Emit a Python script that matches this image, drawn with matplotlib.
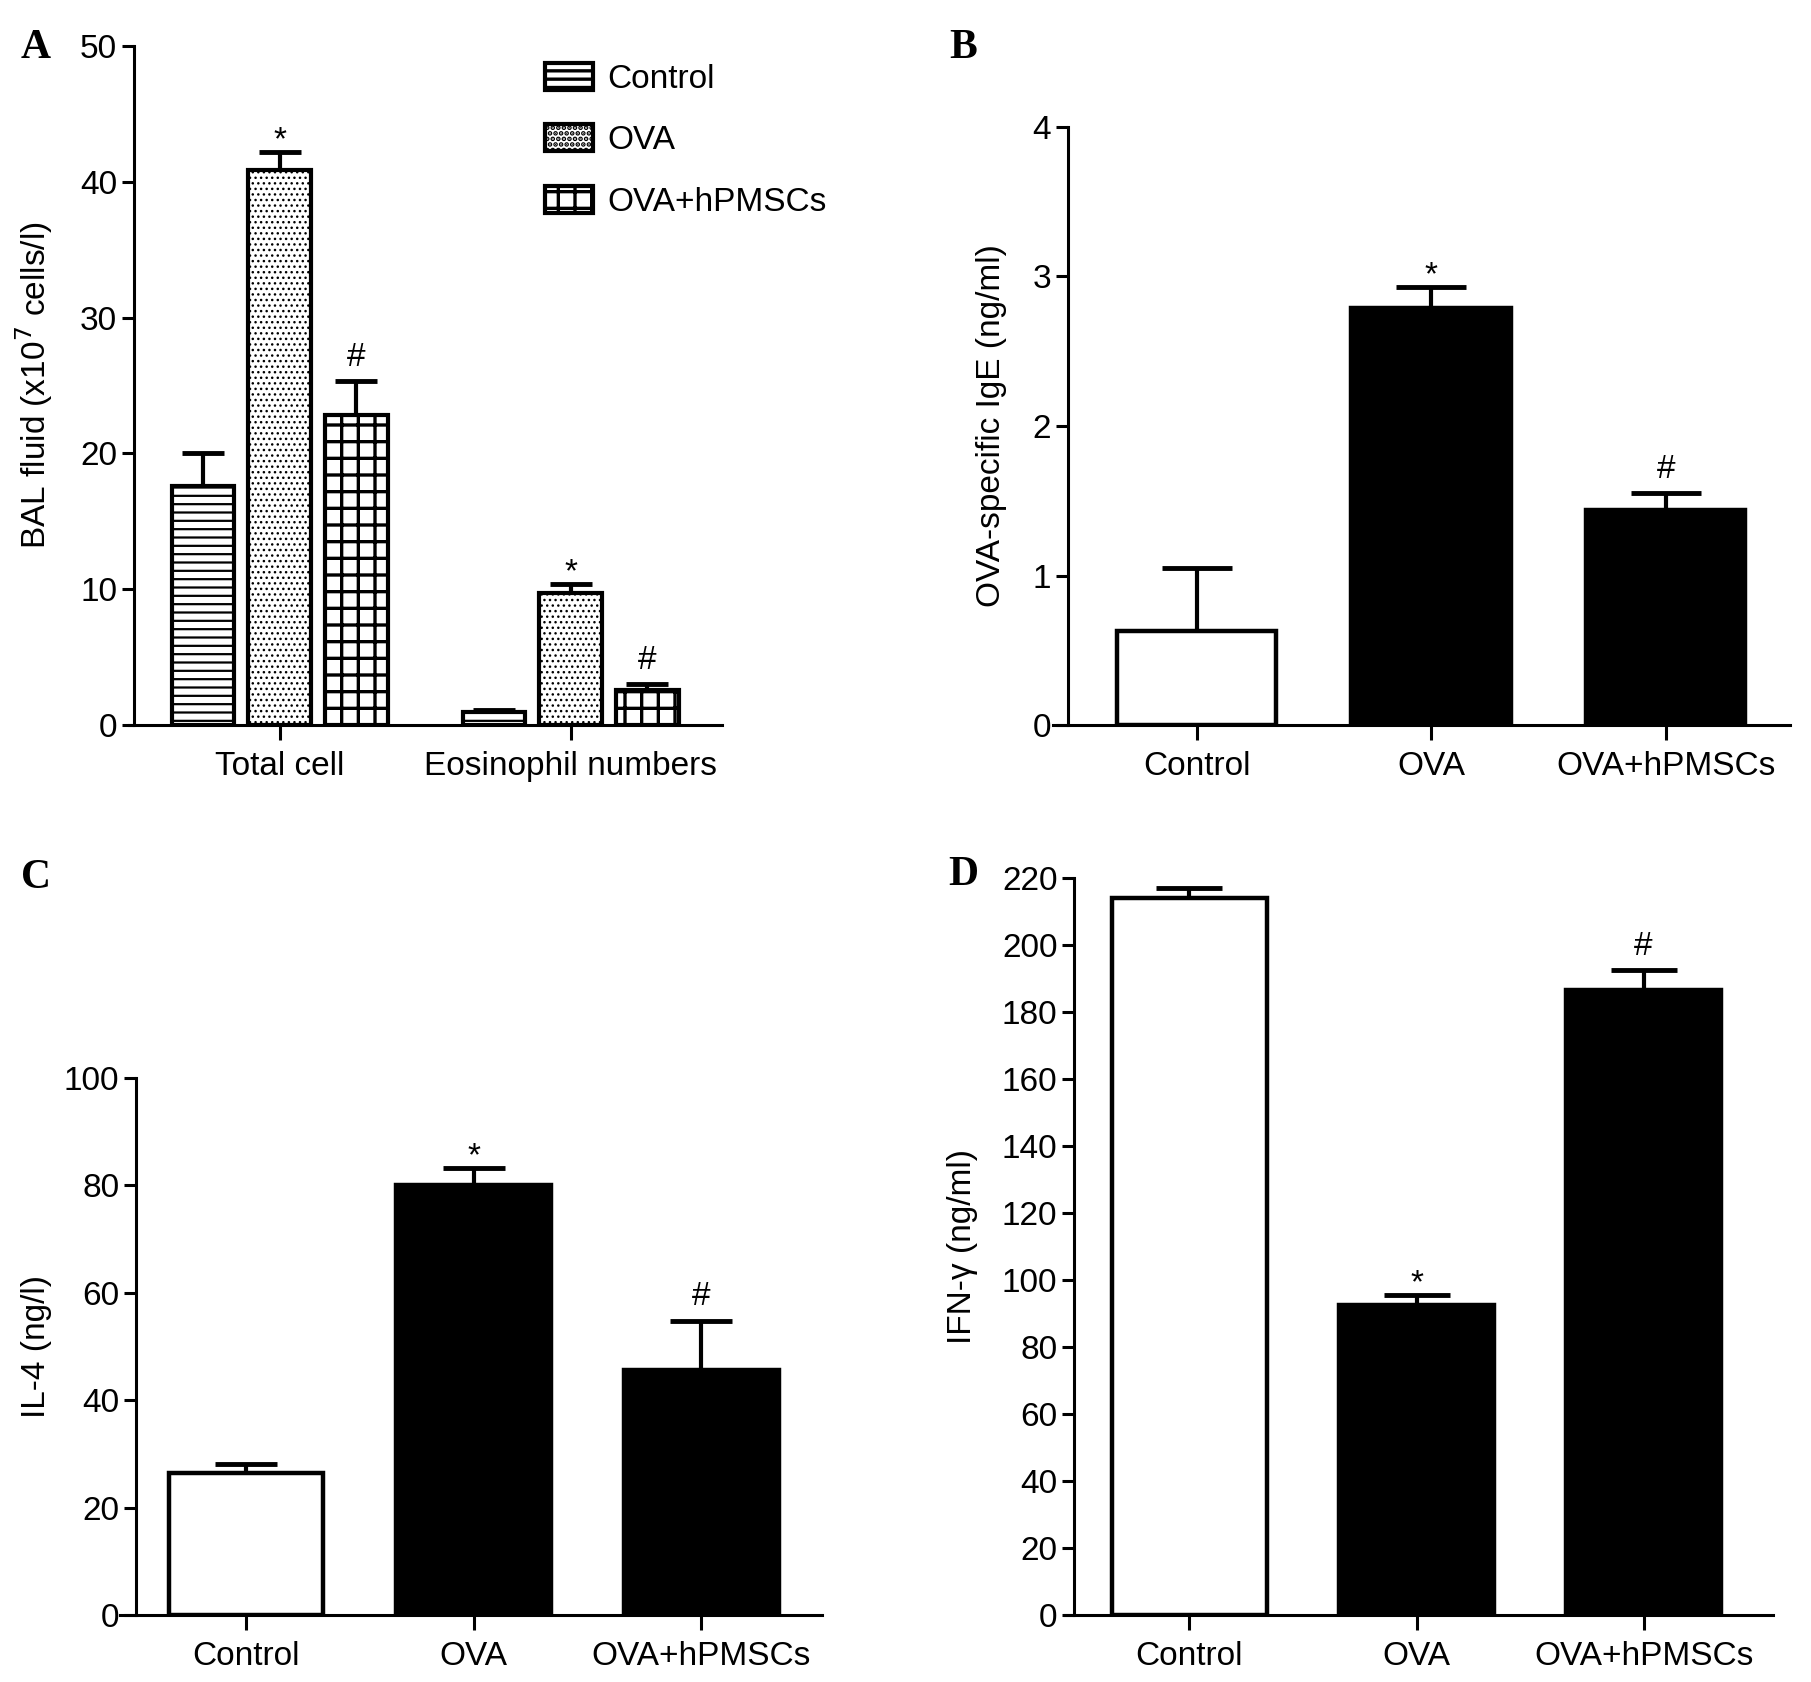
import numpy as np
import matplotlib
matplotlib.use("Agg")
import matplotlib.pyplot as plt
from matplotlib.patches import Patch

plt.rcParams['font.family'] = ['Liberation Sans', 'DejaVu Sans']

# data
groups = ['Control', 'OVA', 'OVA+hPMSCs']
a_cats = ['Total cell', 'Eosinophil numbers']
a_vals = {'Control': [17.6, 0.95], 'OVA': [40.9, 9.7], 'OVA+hPMSCs': [22.8, 2.55]}
a_err = {'Control': [2.4, 0.15], 'OVA': [1.3, 0.7], 'OVA+hPMSCs': [2.5, 0.45]}
a_marks = {'Control': ['', ''], 'OVA': ['*', '*'], 'OVA+hPMSCs': ['#', '#']}

ige_vals = [0.63, 2.79, 1.44]
ige_err = [0.42, 0.14, 0.11]
il4_vals = [26.5, 80.0, 45.6]
il4_err = [1.7, 3.2, 9.2]
ifn_vals = [214.0, 92.4, 186.6]
ifn_err = [2.9, 3.1, 5.8]
marks = ['', '*', '#']

FS = 24
W, H = 1811, 1682
fig = plt.figure(figsize=(W / 100, H / 100), dpi=100)

# hatch look for panel A: pattern, hatch line width, hatch colour
hatch_style = {'Control': ('--', 1.6, 'black'),
               'OVA': ('...', 1.0, '#707070'),
               'OVA+hPMSCs': ('+', 2.4, 'black')}


def hatched(patch, g):
    h, lw, hc = hatch_style[g]
    patch.set_hatch(h)
    if hasattr(patch, 'set_hatch_linewidth'):
        patch.set_hatch_linewidth(lw)
    if hasattr(patch, 'set_hatchcolor'):
        patch.set_hatchcolor(hc)


def px_axes(left, right, top, bottom):
    return fig.add_axes([left / W, 1 - bottom / H, (right - left) / W, (bottom - top) / H])


def style(ax, spine_x, ylim, yticks, ylabel, lab_x):
    ax.set_ylim(*ylim)
    ax.set_yticks(yticks)
    for s in ['top', 'right']:
        ax.spines[s].set_visible(False)
    ax.spines['left'].set_position(('data', spine_x))
    for s in ['left', 'bottom']:
        ax.spines[s].set_linewidth(2.2)
    ax.tick_params(axis='x', length=11, width=2.2, pad=8, labelsize=FS)
    ax.tick_params(axis='y', length=9, width=2.2, pad=3, labelsize=FS)
    ax.set_ylabel(ylabel, fontsize=FS)
    ax.yaxis.set_label_coords(lab_x, 0.5)


def mark(ax, x, top, m):
    if m == '#':
        ax.annotate(m, (x, top), xytext=(0, 11), textcoords='offset points',
                    ha='center', va='baseline', fontsize=FS)
    elif m == '*':
        ax.annotate(m, (x, top), xytext=(0, 2), textcoords='offset points',
                    ha='center', va='baseline', fontsize=FS)


def simple_panel(ax, vals, errs, capsize):
    x = np.arange(len(groups))
    colors = ['white', 'black', 'black']
    ax.bar(x, vals, width=0.68, color=colors, edgecolor='black', linewidth=3.2, zorder=2)
    ax.errorbar(x, vals, yerr=[np.zeros(len(vals)), errs], fmt='none', ecolor='black',
                elinewidth=3, capsize=capsize, capthick=3.5, zorder=1)
    for xi, v, e, m in zip(x, vals, errs, marks):
        mark(ax, xi, v + e, m)
    ax.set_xticks(x)
    ax.set_xticklabels(groups)


# ---- Panel A
axA = px_axes(129, 722, 46, 725)
offsets = [-0.264, 0.0, 0.264]
xc = np.arange(len(a_cats))
for g, off in zip(groups, offsets):
    plt.rcParams['hatch.linewidth'] = hatch_style[g][1]
    bars = axA.bar(xc + off, a_vals[g], width=0.214, color='white', edgecolor='black',
                   linewidth=3.0, zorder=2)
    for b in bars:
        hatched(b, g)
    axA.errorbar(xc + off, a_vals[g], yerr=[np.zeros(2), a_err[g]], fmt='none',
                 ecolor='black', elinewidth=3, capsize=15, capthick=3.5, zorder=1)
    for xi, v, e, m in zip(xc + off, a_vals[g], a_err[g], a_marks[g]):
        mark(axA, xi, v + e, m)
axA.set_xlim(-0.517, 1.52)
axA.set_xticks(xc)
axA.set_xticklabels(a_cats)
style(axA, -0.5, (0, 50), [0, 10, 20, 30, 40, 50], 'BAL fluid (x10$^7$ cells/l)', -0.125)
handles = []
for g in groups:
    plt.rcParams['hatch.linewidth'] = hatch_style[g][1]
    p = Patch(facecolor='white', edgecolor='black', linewidth=3)
    hatched(p, g)
    handles.append(p)
axA.legend(handles, groups, loc='upper left', bbox_to_anchor=(545 / W, 1 - 63 / H),
           bbox_transform=fig.transFigure, frameon=False, fontsize=FS, borderpad=0,
           handlelength=1.45, handleheight=0.85, handletextpad=0.42, labelspacing=0.89,
           borderaxespad=0)

# ---- Panel B
axB = px_axes(1053, 1790, 127, 725)
simple_panel(axB, ige_vals, ige_err, 25)
axB.set_xlim(-0.612, 2.53)
style(axB, -0.548, (0, 4), [0, 1, 2, 3, 4], 'OVA-specific IgE (ng/ml)', -0.062)

# ---- Panel C
axC = px_axes(120, 822, 1078, 1615)
simple_panel(axC, il4_vals, il4_err, 22)
axC.set_xlim(-0.554, 2.53)
style(axC, -0.483, (0, 100), [0, 20, 40, 60, 80, 100], 'IL-4 (ng/l)', -0.097)

# ---- Panel D
axD = px_axes(1065, 1773, 878, 1615)
simple_panel(axD, ifn_vals, ifn_err, 24)
axD.set_xlim(-0.548, 2.57)
style(axD, -0.508, (0, 220), np.arange(0, 221, 20), 'IFN-\u03b3 (ng/ml)', -0.123)

# panel letters
for lab, (x, y) in zip('ABCD', [(36, 48), (963, 48), (36, 878), (963, 875)]):
    fig.text(x / W, 1 - y / H, lab, fontsize=30, fontweight='bold',
             family='Liberation Serif', ha='center', va='center')

fig.savefig('out.png', dpi=100, facecolor='white')
